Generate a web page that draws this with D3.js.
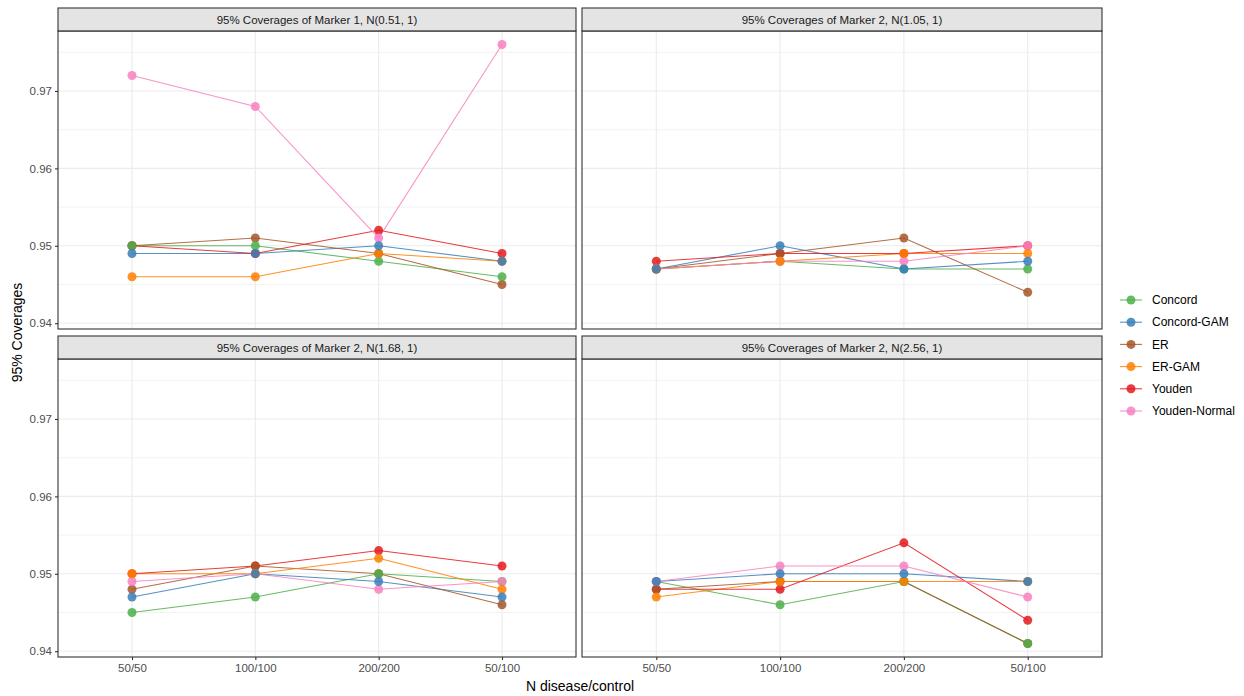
<!DOCTYPE html>
<html>
<head>
<meta charset="utf-8">
<script src="https://cdn.jsdelivr.net/npm/d3@7"></script>
<style>
  html, body { margin: 0; padding: 0; background: #fff; }
  svg { display: block; font-family: "Liberation Sans", Arial, sans-serif; }
</style>
</head>
<body>
<svg id="chart" width="1244" height="696"></svg>
<script>
// Sample-size settings on the x axis
const sizes = ["50/50", "100/100", "200/200", "50/100"];

// Methods (legend order) and their colours
const methods = ["Concord", "Concord-GAM", "ER", "ER-GAM", "Youden", "Youden-Normal"];
const methodColors = ["#4DAF4A", "#377EB8", "#A65628", "#FF7F00", "#E41A1C", "#F781BF"];

// Order in which the point layers are stacked (indices into `methods`)
const pointOrder = [4, 2, 0, 5, 3, 1];

// Facet titles
const panelTitles = [
  "95% Coverages of Marker 1, N(0.51, 1)",
  "95% Coverages of Marker 2, N(1.05, 1)",
  "95% Coverages of Marker 2, N(1.68, 1)",
  "95% Coverages of Marker 2, N(2.56, 1)"
];

// Coverage per method, one row per panel, values in order of `sizes`
const concord = [
  [0.950, 0.950, 0.948, 0.946],
  [0.947, 0.948, 0.947, 0.947],
  [0.945, 0.947, 0.950, 0.949],
  [0.949, 0.946, 0.949, 0.941]
];
const concordGam = [
  [0.949, 0.949, 0.950, 0.948],
  [0.947, 0.950, 0.947, 0.948],
  [0.947, 0.950, 0.949, 0.947],
  [0.949, 0.950, 0.950, 0.949]
];
const er = [
  [0.950, 0.951, 0.949, 0.945],
  [0.947, 0.949, 0.951, 0.944],
  [0.948, 0.951, 0.950, 0.946],
  [0.948, 0.949, 0.949, 0.941]
];
const erGam = [
  [0.946, 0.946, 0.949, 0.948],
  [0.947, 0.948, 0.949, 0.949],
  [0.950, 0.950, 0.952, 0.948],
  [0.947, 0.949, 0.949, 0.949]
];
const youden = [
  [0.950, 0.949, 0.952, 0.949],
  [0.948, 0.949, 0.949, 0.950],
  [0.950, 0.951, 0.953, 0.951],
  [0.948, 0.948, 0.954, 0.944]
];
const youdenNormal = [
  [0.972, 0.968, 0.951, 0.976],
  [0.947, 0.948, 0.948, 0.950],
  [0.949, 0.950, 0.948, 0.949],
  [0.949, 0.951, 0.951, 0.947]
];
const seriesValues = [concord, concordGam, er, erGam, youden, youdenNormal];

// Y axis ticks
const yTicks = [0.94, 0.95, 0.96, 0.97];
const yMinor = [0.945, 0.955, 0.965, 0.975];

const svg = d3.select("#chart");

// Facet geometry
const cols = [{ x0: 58, x1: 576 }, { x0: 582, x1: 1102 }];
const rows = [{ s0: 8, p0: 31, p1: 329 }, { s0: 336, p0: 359, p1: 657 }];

// Shared y range with 5% padding around the data extent
const allVals = seriesValues.flat(2);
const yMin = d3.min(allVals), yMax = d3.max(allVals);
const pad = (yMax - yMin) * 0.05;

const border = "#333333";

panelTitles.forEach((title, p) => {
  const c = cols[p % 2], r = rows[Math.floor(p / 2)];
  const x = d3.scalePoint().domain(sizes).range([c.x0, c.x1]).padding(0.6);
  const y = d3.scaleLinear().domain([yMin - pad, yMax + pad]).range([r.p1, r.p0]);
  const g = svg.append("g");

  // Grid lines
  g.selectAll(".minor").data(yMinor).join("line")
    .attr("x1", c.x0).attr("x2", c.x1)
    .attr("y1", d => y(d)).attr("y2", d => y(d))
    .attr("stroke", "#EBEBEB").attr("stroke-width", 0.6);
  g.selectAll(".major").data(yTicks).join("line")
    .attr("x1", c.x0).attr("x2", c.x1)
    .attr("y1", d => y(d)).attr("y2", d => y(d))
    .attr("stroke", "#EBEBEB").attr("stroke-width", 1.1);
  g.selectAll(".vmajor").data(sizes).join("line")
    .attr("x1", d => x(d)).attr("x2", d => x(d))
    .attr("y1", r.p0).attr("y2", r.p1)
    .attr("stroke", "#EBEBEB").attr("stroke-width", 1.1);

  // Lines for each method
  const line = d3.line().x((d, i) => x(sizes[i])).y(d => y(d));
  methods.forEach((m, k) => {
    g.append("path").datum(seriesValues[k][p])
      .attr("d", line)
      .attr("fill", "none")
      .attr("stroke", methodColors[k])
      .attr("stroke-width", 1.1)
      .attr("stroke-opacity", 0.85);
  });
  // Points, stacked in data order
  pointOrder.forEach(k => {
    g.selectAll(null).data(seriesValues[k][p]).join("circle")
      .attr("cx", (d, i) => x(sizes[i]))
      .attr("cy", d => y(d))
      .attr("r", 4.5)
      .attr("fill", methodColors[k])
      .attr("fill-opacity", 0.85);
  });

  // Panel border
  g.append("rect")
    .attr("x", c.x0).attr("y", r.p0)
    .attr("width", c.x1 - c.x0).attr("height", r.p1 - r.p0)
    .attr("fill", "none").attr("stroke", border).attr("stroke-width", 1.1);

  // Strip
  g.append("rect")
    .attr("x", c.x0).attr("y", r.s0)
    .attr("width", c.x1 - c.x0).attr("height", r.p0 - r.s0)
    .attr("fill", "#D9D9D9").attr("fill-opacity", 0.7)
    .attr("stroke", border).attr("stroke-width", 1.1);
  g.append("text")
    .attr("x", (c.x0 + c.x1) / 2).attr("y", (r.s0 + r.p0) / 2)
    .attr("dy", "0.35em")
    .attr("text-anchor", "middle")
    .attr("font-size", 11.5)
    .attr("fill", "#1A1A1A")
    .text(title);

  // Y axis on the left column
  if (p % 2 === 0) {
    const ax = g.append("g").attr("transform", `translate(${c.x0},0)`)
      .call(d3.axisLeft(y).tickValues(yTicks).tickFormat(d3.format(".2f")).tickSize(3).tickPadding(3));
    ax.select(".domain").remove();
    ax.selectAll(".tick line").attr("stroke", border).attr("stroke-width", 1.1);
    ax.selectAll(".tick text").attr("fill", "#4D4D4D").attr("font-size", 11.5)
      .attr("font-family", "Liberation Sans, Arial, sans-serif");
  }
  // X axis on the bottom row
  if (p >= 2) {
    const ax = g.append("g").attr("transform", `translate(0,${r.p1})`)
      .call(d3.axisBottom(x).tickSize(3).tickPadding(4));
    ax.select(".domain").remove();
    ax.selectAll(".tick line").attr("stroke", border).attr("stroke-width", 1.1);
    ax.selectAll(".tick text").attr("fill", "#4D4D4D").attr("font-size", 11.5)
      .attr("font-family", "Liberation Sans, Arial, sans-serif");
  }
});

// Axis titles
svg.append("text")
  .attr("x", (cols[0].x0 + cols[1].x1) / 2).attr("y", 691)
  .attr("text-anchor", "middle").attr("font-size", 14).attr("fill", "#000")
  .text("N disease/control");
svg.append("text")
  .attr("transform", `translate(22,${(rows[0].s0 + rows[1].p1) / 2}) rotate(-90)`)
  .attr("text-anchor", "middle").attr("font-size", 14).attr("fill", "#000")
  .text("95% Coverages");

// Legend
const legend = svg.append("g").attr("transform", "translate(1120,300)");
methods.forEach((m, k) => {
  const row = legend.append("g").attr("transform", `translate(0,${k * 22.2})`);
  row.append("line").attr("x1", 0).attr("x2", 22).attr("y1", 0).attr("y2", 0)
    .attr("stroke", methodColors[k]).attr("stroke-width", 1.1).attr("stroke-opacity", 0.85);
  row.append("circle").attr("cx", 11).attr("cy", 0).attr("r", 4.5)
    .attr("fill", methodColors[k]).attr("fill-opacity", 0.85);
  row.append("text").attr("x", 32).attr("y", 0).attr("dy", "0.35em")
    .attr("font-size", 12).attr("fill", "#000").text(m);
});
</script>
</body>
</html>
